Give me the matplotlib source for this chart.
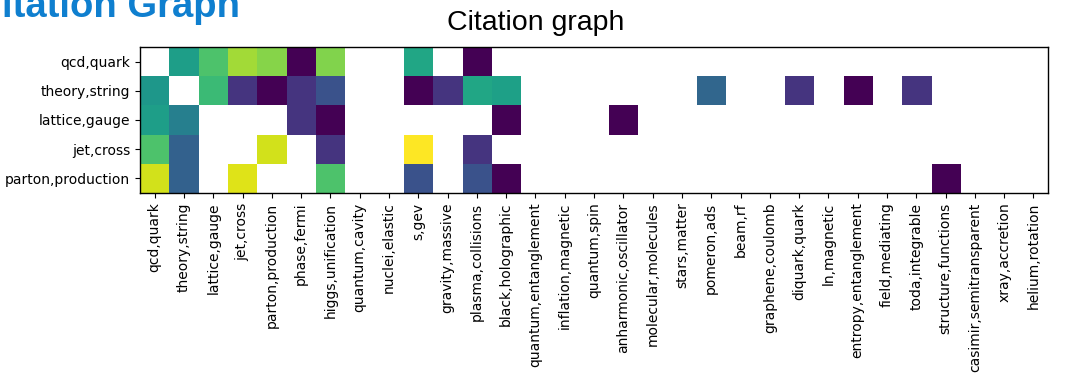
import numpy as np
import matplotlib
matplotlib.use("Agg")
import matplotlib.pyplot as plt

# Topic labels (rows: citing topics, columns: cited topics)
row_topics = ["qcd,quark", "theory,string", "lattice,gauge", "jet,cross",
              "parton,production"]
col_topics = ["qcd,quark", "theory,string", "lattice,gauge", "jet,cross",
              "parton,production", "phase,fermi", "higgs,unification",
              "quantum,cavity", "nuclei,elastic", "s,gev", "gravity,massive",
              "plasma,collisions", "black,holographic", "quantum,entanglement",
              "inflation,magnetic", "quantum,spin", "anharmonic,oscillator",
              "molecular,molecules", "stars,matter", "pomeron,ads", "beam,rf",
              "graphene,coulomb", "diquark,quark", "ln,magnetic",
              "entropy,entanglement", "field,mediating", "toda,integrable",
              "structure,functions", "casimir,semitransparent",
              "xray,accretion", "helium,rotation"]

# Normalised citation strength per (row, column); None = no citations
N = None
qcd_quark = [N, 0.56, 0.72, 0.86, 0.82, 0.0, 0.81, N, N, 0.59, N, 0.0, N,
             N, N, N, N, N, N, N, N, N, N, N, N, N, N, N, N, N, N]
theory_string = [0.53, N, 0.68, 0.15, 0.0, 0.15, 0.25, N, N, 0.0, 0.15, 0.59,
                 0.57, N, N, N, N, N, N, 0.33, N, N, 0.15, N, 0.0, N, 0.15,
                 N, N, N, N]
lattice_gauge = [0.56, 0.43, N, N, N, 0.15, 0.0, N, N, N, N, N, 0.0,
                 N, N, N, 0.0, N, N, N, N, N, N, N, N, N, N, N, N, N, N]
jet_cross = [0.72, 0.31, N, N, 0.93, N, 0.15, N, N, 1.0, N, 0.15, N,
             N, N, N, N, N, N, N, N, N, N, N, N, N, N, N, N, N, N]
parton_production = [0.93, 0.31, N, 0.95, N, N, 0.72, N, N, 0.25, N, 0.25,
                     0.0, N, N, N, N, N, N, N, N, N, N, N, N, N, N, 0.0,
                     N, N, N]

rows = [qcd_quark, theory_string, lattice_gauge, jet_cross, parton_production]
grid = np.array([[np.nan if v is None else v for v in r] for r in rows],
                dtype=float)
masked = np.ma.masked_invalid(grid)

fig = plt.figure(figsize=(10.65, 3.73), dpi=100)
ax = fig.add_axes([0.1315, 0.483, 0.8526, 0.391])

ax.imshow(masked, cmap="viridis", vmin=0, vmax=1, aspect="auto",
          interpolation="nearest")

ax.set_xticks(np.arange(len(col_topics)))
ax.set_xticklabels(col_topics, rotation=90, fontsize=10)
ax.set_yticks(np.arange(len(row_topics)))
ax.set_yticklabels(row_topics, fontsize=10)
for s in ax.spines.values():
    s.set_linewidth(1.0)

fig.text(536 / 1065, 1 - 30 / 373, "Citation graph", ha="center",
         va="baseline", fontsize=20.5, family="Liberation Sans")
# Slide heading, partly above the top edge of the figure
fig.text(2 / 1065, 1 - 17 / 373, "itation Graph", ha="left",
         va="baseline", fontsize=27.5, fontweight="bold", color="#0f7fcf",
         family="Liberation Sans")

fig.savefig("out.png", dpi=100)
